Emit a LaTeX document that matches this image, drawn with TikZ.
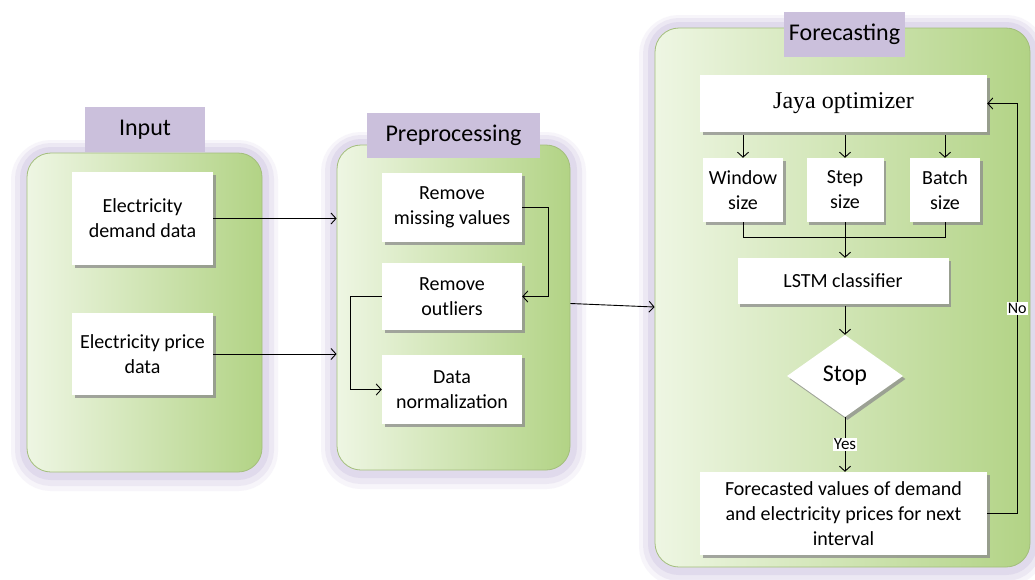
\documentclass[tikz,border=0pt]{standalone}
\usepackage{fontspec}
\setmainfont{Carlito}
\newfontfamily\jayafont{Liberation Serif}
\usetikzlibrary{shapes.geometric,shadows,arrows.meta}
\definecolor{glow}{HTML}{D3C9E4}
\definecolor{tabfill}{HTML}{CBC0DC}
\definecolor{gleft}{HTML}{EEF6E3}
\definecolor{gright}{HTML}{B2D385}
\definecolor{pedge}{HTML}{A3BE7C}
\begin{document}
\begin{tikzpicture}[x=1pt,y=-1pt,
  panel/.style={rounded corners=24pt, left color=gleft, right color=gright, draw=pedge, line width=0.8pt, inner sep=0pt,
    preaction={draw=glow, line width=32pt, opacity=.18, transform canvas={yshift=-3pt}},
    preaction={draw=glow, line width=24pt, opacity=.28, transform canvas={yshift=-2pt}},
    preaction={draw=glow, line width=14pt, opacity=.45, transform canvas={yshift=-1pt}}},
  tab/.style={fill=tabfill, inner sep=0pt, font=\fontsize{24}{28}\selectfont},
  box/.style={fill=white, inner sep=0pt, align=center, font=\fontsize{20}{25}\selectfont,
    drop shadow={shadow xshift=2.5pt, shadow yshift=-3pt, fill=black!45, opacity=.75}},
  conn/.style={draw, line width=0.9pt, -{Straight Barb[length=5pt,width=11pt]}},
  link/.style={draw, line width=0.9pt},
  lbl/.style={fill=white, inner sep=1pt}
]
\useasboundingbox (0,0) rectangle (1035,579);
\fill[white] (0,0) rectangle (1035,579);

% panels
\node[panel, minimum width=235pt, minimum height=319pt] (inp) at (144.5,312.5) {};
\node[panel, minimum width=233pt, minimum height=325pt] (prep) at (453.5,307.5) {};
\node[panel, minimum width=375pt, minimum height=539pt] (fore) at (842.5,297.5) {};

% tabs
\node[tab, minimum width=120pt, minimum height=45pt] (tin) at (145,129.5) {Input};
\node[tab, minimum width=173pt, minimum height=45pt] (tprep) at (453.5,135.5) {Preprocessing};
\node[tab, minimum width=121pt, minimum height=45pt] (tfore) at (844.5,34.5) {Forecasting};

% input boxes
\node[box, minimum width=141pt, minimum height=93pt] (dem) at (142.5,218.5) {Electricity\\demand data};
\node[box, minimum width=141pt, minimum height=82pt] (pri) at (142.5,354) {Electricity price\\data};

% preprocessing boxes
\node[box, minimum width=140pt, minimum height=69pt] (miss) at (452,207.5) {Remove\\missing values};
\node[box, minimum width=140pt, minimum height=67pt] (outl) at (452,296.5) {Remove\\outliers};
\node[box, minimum width=140pt, minimum height=69pt] (norm) at (452,389.5) {Data\\normalization};

% forecasting boxes
\node[box, minimum width=287pt, minimum height=57pt, font=\jayafont\fontsize{24}{28}\selectfont] (jaya) at (843.5,103.5) {Jaya optimizer};
\node[box, minimum width=80pt, minimum height=64pt] (win) at (743,190) {Window\\size};
\node[box, minimum width=77pt, minimum height=64pt] (stp) at (845,190) {Step\\size};
\node[box, minimum width=70pt, minimum height=64pt] (bat) at (945,190) {Batch\\size};
\node[box, minimum width=211pt, minimum height=46pt] (lstm) at (843,281) {LSTM classifier};
\node[box, diamond, minimum width=116pt, minimum height=82pt, font=\fontsize{24}{28}\selectfont] (stop) at (845,376) {Stop};
\node[box, minimum width=287pt, minimum height=83pt] (fc) at (843.5,513.5) {Forecasted values of demand\\and electricity prices for next\\interval};

\coordinate (mj) at (845,237);

% connectors
\draw[conn] (dem.east) -- (dem.east -| prep.west);
\draw[conn] (pri.east) -- (pri.east -| prep.west);
\draw[conn] (miss.east) -- ++(26,0) |- (outl.east);
\draw[conn] (outl.west) -- ++(-31,0) |- (norm.west);
\draw[conn] ([yshift=4pt]prep.east) -- ([yshift=-9.5pt]fore.west);

\draw[conn, shorten <=3pt] (jaya.south -| win.north) -- (win.north);
\draw[conn, shorten <=3pt] (jaya.south -| stp.north) -- (stp.north);
\draw[conn, shorten <=3pt] (jaya.south -| bat.north) -- (bat.north);
\draw[link] (win.south) |- (mj);
\draw[link] (bat.south) |- (mj);
\draw[link] (stp.south) -- (mj);
\draw[conn] (mj) -- (mj |- lstm.north);
\draw[conn, shorten <=2pt] (lstm.south -| stop.north) -- (stop.north);
\draw[conn] (stop.south) -- node[lbl, font=\fontsize{17}{20}\selectfont] {Yes} (stop.south |- fc.north);
\draw[conn] (fc.east) -- ++(30,0) |- node[lbl, pos=0.25, font=\fontsize{16}{19}\selectfont] {No} (jaya.east);
\end{tikzpicture}
\end{document}
